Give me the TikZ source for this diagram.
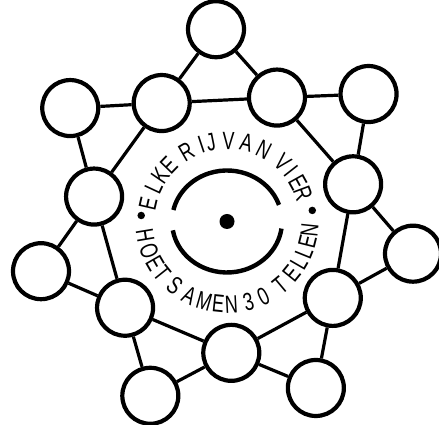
\documentclass[tikz,border=0pt]{standalone}
\usepackage{fontspec}
\usetikzlibrary{calc}
\newfontfamily\ringfamily[FakeStretch=0.72]{Liberation Sans}
\newcommand{\ringfont}{\fontsize{25}{27}\ringfamily\selectfont}

\begin{document}
\begin{tikzpicture}[
    x=1pt,y=1pt,
    cell/.style={draw,line width=4.2pt,circle,minimum size=56pt,inner sep=0pt},
    link/.style={line width=3.2pt},
    ring/.style={line width=4.4pt},
    letter/.style={font=\ringfont,inner sep=0pt},
    dot/.style={circle,fill,inner sep=0pt,minimum size=#1}
  ]
    \useasboundingbox (0,0) rectangle (439,425);
    \coordinate (mid) at (225,205);
    \coordinate (hub) at (227,203.5);

    % star points and crossings
    \foreach \k in {0,...,6} {
      \node[cell] (tip\k) at ($(mid)+({92.7-\k*51.43}:191)$) {};
      \node[cell] (cross\k) at ($(mid)+({67-\k*51.43}:133)$) {};
    }
    \foreach \k/\j in {0/1,1/2,2/3,3/4,4/5,5/6,6/0} {
      \draw[link] (tip\k) -- (cross\k);
      \draw[link] (cross\k) -- (tip\j);
      \draw[link] (cross\k) -- (cross\j);
    }

    % lettering round the middle
    \foreach \ch/\ang [count=\n] in {E/167,L/155,K/145.5,E/136,
        R/120,I/108.5,J/101.5,V/89,A/76,N/63,V/46.5,I/38,E/29,R/20.5}
      \node[letter,rotate=\ang-90] (top\n) at ($(hub)+(\ang:81)$) {\ch};
    \foreach \ch/\ang [count=\n] in {H/189.5,O/200.5,E/210,T/218.5,
        S/231,A/243,M/254,E/264,N/273,3/285,0/296,
        T/310,E/321,L/330,L/338,E/346,N/354}
      \node[letter,rotate=\ang+90] (bot\n) at ($(hub)+(\ang:83)$) {\ch};
    \node[dot=7.5pt] (lbullet) at ($(hub)+(176:86)$) {};
    \node[dot=7.5pt] (rbullet) at ($(hub)+(7.4:86)$) {};

    % eye in the centre
    \draw[ring] ($(hub)+(19:55 and 51)$)
      arc[start angle=19,end angle=167,x radius=55,y radius=51];
    \draw[ring] ($(hub)+(190:55 and 51)$)
      arc[start angle=190,end angle=352,x radius=55,y radius=51];
    \node[dot=15pt] (eye) at (hub) {};
\end{tikzpicture}
\end{document}
